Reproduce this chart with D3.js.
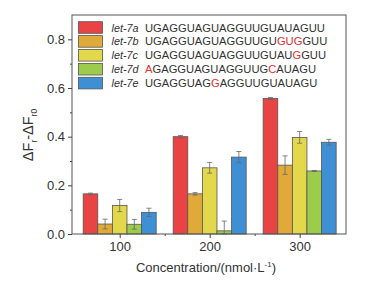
<!DOCTYPE html>
<html lang="en">
<head>
<meta charset="utf-8">
<script src="https://d3js.org/d3.v7.min.js"></script>
<style>
  body { margin: 0; background: #fff; }
  text { font-family: "Liberation Sans", Arial, sans-serif; fill: #333; }
</style>
</head>
<body>
<script>
  // data
  const concentrations = [100, 200, 300];
  const seriesNames = ["let-7a", "let-7b", "let-7c", "let-7d", "let-7e"];
  const seriesColors = ["#e94343", "#e0aa3b", "#e3d84c", "#9dcb4b", "#3f8fd5"];
  const let7a = [0.165, 0.400, 0.557];
  const let7b = [0.041, 0.165, 0.283];
  const let7c = [0.117, 0.272, 0.397];
  const let7d = [0.040, 0.013, 0.259];
  const let7e = [0.089, 0.316, 0.377];
  const err7a = [0.003, 0.005, 0.004];
  const err7b = [0.020, 0.005, 0.038];
  const err7c = [0.025, 0.022, 0.024];
  const err7d = [0.020, 0.040, 0.002];
  const err7e = [0.017, 0.023, 0.012];
  // sequences, red letters marked by index
  const sequences = [
    "UGAGGUAGUAGGUUGUAUAGUU",
    "UGAGGUAGUAGGUUGUGUGGUU",
    "UGAGGUAGUAGGUUGUAUGGUU",
    "AGAGGUAGUAGGUUGCAUAGU",
    "UGAGGUAGGAGGUUGUAUAGU"
  ];
  const redLetters = [[], [16, 17, 18], [18], [0, 15], [8]];
  const yTicks = [0.0, 0.2, 0.4, 0.6, 0.8];

  const values = [let7a, let7b, let7c, let7d, let7e];
  const errors = [err7a, err7b, err7c, err7d, err7e];

  const W = 382, H = 283;
  const mLeft = 72, mRight = 346, mTop = 15, mBottom = 234;

  const svg = d3.select("body").append("svg")
    .attr("width", W).attr("height", H);

  const x = d3.scaleLinear().domain([47, 351.5]).range([mLeft, mRight]);
  const y = d3.scaleLinear().domain([0, 0.9]).range([mBottom, mTop]);
  const inner = d3.scaleBand().domain(seriesNames).range([-36.5, 36.5]);

  // bars
  const bars = [];
  values.forEach((vals, s) => vals.forEach((v, i) => bars.push({ s, i, v, e: errors[s][i] })));

  svg.append("g").selectAll("rect").data(bars).enter().append("rect")
    .attr("x", d => x(concentrations[d.i]) + inner(seriesNames[d.s]))
    .attr("y", d => y(d.v))
    .attr("width", inner.bandwidth())
    .attr("height", d => y(0) - y(d.v))
    .attr("fill", d => seriesColors[d.s])
    .attr("stroke", "#555")
    .attr("stroke-width", 0.8);

  // error bars
  const eg = svg.append("g").attr("stroke", "#666").attr("stroke-width", 0.8);
  bars.forEach(d => {
    const cx = x(concentrations[d.i]) + inner(seriesNames[d.s]) + inner.bandwidth() / 2;
    const lo = y(Math.max(0, d.v - d.e)), hi = y(d.v + d.e);
    eg.append("line").attr("x1", cx).attr("x2", cx).attr("y1", lo).attr("y2", hi);
    eg.append("line").attr("x1", cx - 2.5).attr("x2", cx + 2.5).attr("y1", hi).attr("y2", hi);
    eg.append("line").attr("x1", cx - 2.5).attr("x2", cx + 2.5).attr("y1", lo).attr("y2", lo);
  });

  // frame
  svg.append("rect")
    .attr("x", mLeft).attr("y", mTop)
    .attr("width", mRight - mLeft).attr("height", mBottom - mTop)
    .attr("fill", "none").attr("stroke", "#555").attr("stroke-width", 1);

  // y axis
  const yAxis = svg.append("g").attr("transform", `translate(${mLeft},0)`)
    .call(d3.axisLeft(y).tickValues(yTicks).tickFormat(d3.format(".1f")).tickSize(4).tickPadding(3));
  yAxis.select(".domain").remove();
  yAxis.selectAll("line").attr("stroke", "#444");
  yAxis.selectAll("text").attr("font-size", 13).attr("fill", "#333")
    .attr("font-family", "Liberation Sans, Arial, sans-serif");
  svg.append("g").attr("transform", `translate(${mLeft},0)`)
    .call(d3.axisLeft(y).tickValues([0.1, 0.3, 0.5, 0.7]).tickSize(2).tickFormat(""))
    .call(g => g.select(".domain").remove())
    .selectAll("line").attr("stroke", "#444");

  // x axis
  const xAxis = svg.append("g").attr("transform", `translate(0,${mBottom})`)
    .call(d3.axisBottom(x).tickValues(concentrations).tickSize(4).tickPadding(4));
  xAxis.select(".domain").remove();
  xAxis.selectAll("line").attr("stroke", "#444");
  xAxis.selectAll("text").attr("font-size", 13).attr("fill", "#333")
    .attr("font-family", "Liberation Sans, Arial, sans-serif");
  svg.append("g").attr("transform", `translate(0,${mBottom})`)
    .call(d3.axisBottom(x).tickValues([150, 250]).tickSize(2).tickFormat(""))
    .call(g => g.select(".domain").remove())
    .selectAll("line").attr("stroke", "#444");

  // axis titles
  const xt = svg.append("text")
    .attr("x", 206).attr("y", 272)
    .attr("text-anchor", "middle").attr("font-size", 13);
  xt.append("tspan").text("Concentration/(nmol·L");
  xt.append("tspan").attr("font-size", 8).attr("dy", -5).text("-1");
  xt.append("tspan").attr("dy", 5).text(")");

  const yt = svg.append("text")
    .attr("transform", "translate(33,135) rotate(-90)")
    .attr("text-anchor", "middle").attr("font-size", 14.5);
  yt.append("tspan").text("ΔF");
  yt.append("tspan").attr("font-size", 8.5).attr("dy", 4).text("r");
  yt.append("tspan").attr("dy", -4).text("-ΔF");
  yt.append("tspan").attr("font-size", 8.5).attr("dy", 4).text("r0");

  // legend
  const legend = svg.append("g");
  seriesNames.forEach((name, s) => {
    const cy = 27.5 + s * 13.9;
    legend.append("rect")
      .attr("x", 78.5).attr("y", cy - 5.8).attr("width", 24).attr("height", 11.6)
      .attr("fill", seriesColors[s]).attr("stroke", "#555").attr("stroke-width", 0.8);
    legend.append("text")
      .attr("x", 111.5).attr("y", cy + 4)
      .attr("font-size", 10.8).attr("font-style", "italic").text(name);
    const t = legend.append("text")
      .attr("x", 145).attr("y", cy + 4).attr("font-size", 11.2);
    sequences[s].split("").forEach((ch, k) => {
      t.append("tspan")
        .style("fill", redLetters[s].includes(k) ? "#e03030" : "#333")
        .text(ch);
    });
  });
</script>
</body>
</html>
